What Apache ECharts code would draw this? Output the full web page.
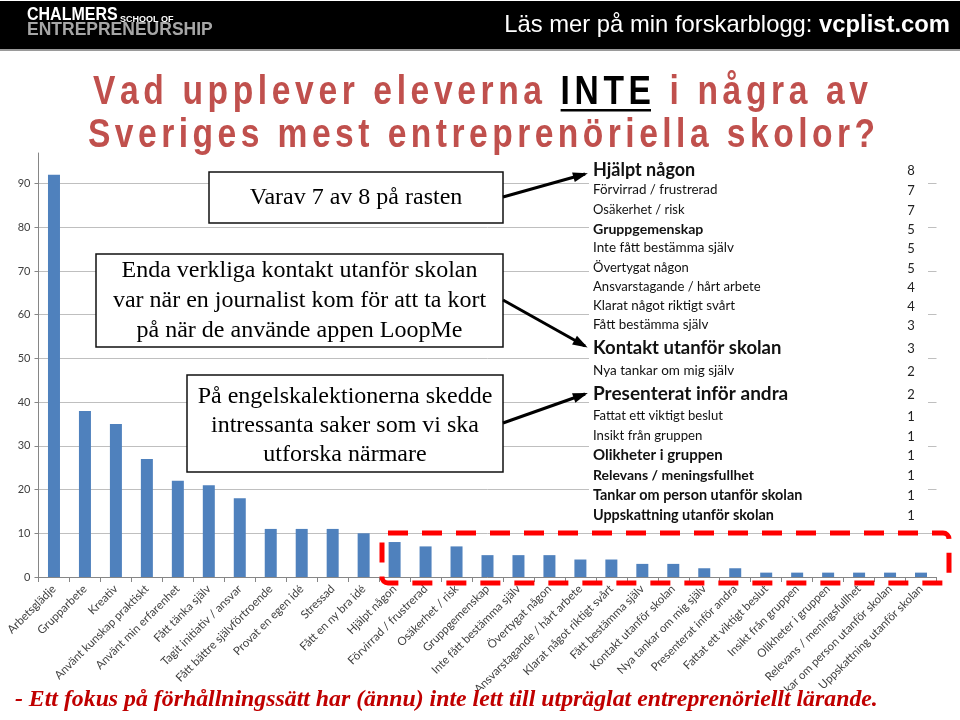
<!DOCTYPE html>
<html>
<head>
<meta charset="utf-8">
<script src="https://cdn.jsdelivr.net/npm/echarts@6/dist/echarts.min.js"></script>
<style>
html,body{margin:0;padding:0;background:#fff;}
#c{width:960px;height:720px;}
</style>
</head>
<body>
<div id="c"></div>
<script>
// ---------------- DATA ----------------
const categories = [
  'Arbetsglädje','Grupparbete','Kreativ','Använt kunskap praktiskt','Använt min erfarenhet',
  'Fått tänka själv','Tagit initiativ / ansvar','Fått bättre självförtroende','Provat en egen idé',
  'Stressad','Fått en ny bra idé','Hjälpt någon','Förvirrad / frustrerad','Osäkerhet / risk',
  'Gruppgemenskap','Inte fått bestämma själv','Övertygat någon','Ansvarstagande / hårt arbete',
  'Klarat något riktigt svårt','Fått bestämma själv','Kontakt utanför skolan','Nya tankar om mig själv',
  'Presenterat inför andra','Fattat ett viktigt beslut','Insikt från gruppen','Olikheter i gruppen',
  'Relevans / meningsfullhet','Tankar om person utanför skolan','Uppskattning utanför skolan'
];
const values = [92,38,35,27,22,21,18,11,11,11,10,8,7,7,5,5,5,4,4,3,3,2,2,1,1,1,1,1,1];
const tableStart = 11; // table lists categories from 'Hjälpt någon' onward

const titleLine1 = ['Vad upplever eleverna ', 'INTE', ' i några av'];
const titleLine2 = ['Sveriges mest entreprenöriella skolor?'];
const headerRight = ['Läs mer på min forskarblogg: ', 'vcplist.com'];
const noteBox1 = ['Varav 7 av 8 på rasten'];
const noteBox2 = ['Enda verkliga kontakt utanför skolan', 'var när en journalist kom för att ta kort', 'på när de använde appen LoopMe'];
const noteBox3 = ['På engelskalektionerna skedde', 'intressanta saker som vi ska', 'utforska närmare'];
const footer = '- Ett fokus på förhållningssätt har (ännu) inte lett till utpräglat entreprenöriellt lärande.';

// ---------------- STYLE / LAYOUT ----------------
const tableRowStyle = [ // [fontSize, bold]
  [18,true],[13.4,false],[13,false],[14.1,true],[13.5,false],[13,false],[13.1,false],[13.4,false],
  [13.4,false],[18.5,true],[13.5,false],[19,true],[13.1,false],[13.2,false],[15,true],[14,true],[14.4,true],[14.4,true]
];
const tableRowY = [170,190,210,229,248,268,287,306,325,348,371,394,416,436,455,475,495,515];

function measure(text, font){
  const c = measure.c || (measure.c = document.createElement('canvas').getContext('2d'));
  c.font = font; return c.measureText(text).width;
}

const gfx = [];
// header
gfx.push({type:'rect', shape:{x:0,y:1,width:960,height:49}, style:{fill:'#000'}, z:100});
gfx.push({type:'rect', shape:{x:0,y:49,width:960,height:2}, style:{fill:'#9a9a9a'}, z:100});
gfx.push({type:'text', x:27, y:24, scaleY:1.15, style:{text:'CHALMERS', fill:'#fff', font:'bold 16px "Liberation Sans"', textVerticalAlign:'bottom'}, z:101});
gfx.push({type:'text', x:120, y:24, style:{text:'SCHOOL OF', fill:'#fff', font:'bold 9px "Liberation Sans"', textVerticalAlign:'bottom'}, z:101});
gfx.push({type:'text', x:27, y:40, scaleY:1.1, style:{text:'ENTREPRENEURSHIP', fill:'#a6a6a6', font:'bold 17.5px "Liberation Sans"', textVerticalAlign:'bottom'}, z:101});
gfx.push({type:'text', x:950, y:25, style:{
  text:'{a|'+headerRight[0]+'}{b|'+headerRight[1]+'}', align:'right', verticalAlign:'middle',
  rich:{a:{fill:'#fff', font:'23.8px "Liberation Sans"'}, b:{fill:'#fff', font:'bold 23.8px "Liberation Sans"'}}
}, z:101});

// title (letter-spaced, drawn character by character)
const tSize = 40, tScaleX = 0.84;
const tFont = 'bold ' + tSize + 'px "Liberation Sans"';
const tRed = '#c0504d';
function spacedLine(segments, colors, midY, left, right, underlineIdx){
  const chars = [];
  segments.forEach((s,si)=>{ for (const ch of s) chars.push([ch, si]); });
  const widths = chars.map(c=>measure(c[0], tFont)*tScaleX);
  const natural = widths.reduce((a,b)=>a+b,0);
  const sp = (right-left-natural)/(chars.length-1);
  let x = left, ux0 = null, ux1 = null;
  chars.forEach((c,i)=>{
    if (c[0] !== ' ') gfx.push({type:'text', x:x, y:midY, scaleX:tScaleX, style:{text:c[0], fill:colors[c[1]], font:tFont, verticalAlign:'middle'}, z:101});
    if (c[1] === underlineIdx){ if (ux0===null) ux0 = x; ux1 = x + widths[i]; }
    x += widths[i] + sp;
  });
  if (ux0 !== null) gfx.push({type:'rect', shape:{x:ux0, y:midY+16, width:ux1-ux0, height:2.5}, style:{fill:'#000'}, z:101});
}
spacedLine(titleLine1, [tRed,'#000',tRed], 93, 93, 868, 1);
spacedLine(titleLine2, [tRed], 136, 88, 875, -1);

// note boxes
function box(x,y,wd,ht,lines,lineY){
  gfx.push({type:'rect', shape:{x:x,y:y,width:wd,height:ht}, style:{fill:'#fff', stroke:'#111', lineWidth:1.5}, z:100});
  lines.forEach((s,i)=>{
    gfx.push({type:'text', x:x+wd/2, y:lineY[i], style:{text:s, fill:'#000', font:'24px "Liberation Serif"', align:'center', verticalAlign:'middle'}, z:101});
  });
}
box(209,172,294,51,noteBox1,[198]);
box(96,254,407,93,noteBox2,[271,301,331]);
box(187,375,316,97,noteBox3,[397,426,455]);

// arrows
function arrow(x1,y1,x2,y2){
  gfx.push({type:'line', shape:{x1:x1,y1:y1,x2:x2,y2:y2}, style:{stroke:'#000', lineWidth:3}, z:102});
  const a = Math.atan2(y2-y1,x2-x1), L=12, W=5;
  const bx = x2 - L*Math.cos(a), by = y2 - L*Math.sin(a);
  gfx.push({type:'polygon', shape:{points:[[x2+3*Math.cos(a),y2+3*Math.sin(a)],[bx - W*Math.sin(a), by + W*Math.cos(a)],[bx + W*Math.sin(a), by - W*Math.cos(a)]]}, style:{fill:'#000'}, z:102});
}
arrow(503,197,585,174);
arrow(503,300,585,346);
arrow(503,423,585,394);

// table (white panel covering gridlines)
gfx.push({type:'rect', shape:{x:589,y:158,width:339,height:368}, style:{fill:'#fff'}, z:100});
categories.slice(tableStart).forEach((name,i)=>{
  const st = tableRowStyle[i];
  gfx.push({type:'text', x:593, y:tableRowY[i], style:{text:name, fill:'#111', font:(st[1]?'bold ':'')+st[0]+'px Lato', verticalAlign:'middle'}, z:101});
  gfx.push({type:'text', x:911, y:tableRowY[i]+1, style:{text:String(values[tableStart+i]), fill:'#222', font:'13px Lato', align:'center', verticalAlign:'middle'}, z:101});
});

// red dashed frame
gfx.push({type:'rect', shape:{x:382,y:533,width:567,height:50,r:6}, style:{fill:null, stroke:'#ff0000', lineWidth:5, lineDash:[20,14]}, z:103});

// footer
gfx.push({type:'rect', shape:{x:10,y:691,width:880,height:29}, style:{fill:'#fff'}, z:100});
gfx.push({type:'text', x:15, y:700, style:{text:footer, fill:'#c00000', font:'italic bold 23.8px "Liberation Serif"', verticalAlign:'middle'}, z:101});

const chart = echarts.init(document.getElementById('c'), null, {renderer:'canvas'});
chart.setOption({
  animation:false,
  backgroundColor:'#fff',
  grid:{left:38.5, right:23.5, top:153, bottom:143, containLabel:false},
  xAxis:{
    type:'category', data:categories,
    axisLine:{lineStyle:{color:'#868686', width:1}},
    axisTick:{show:true, length:5, lineStyle:{color:'#868686'}},
    axisLabel:{rotate:45, interval:0, fontSize:11.5, color:'#404040', fontFamily:'Lato', margin:10}
  },
  yAxis:{
    type:'value', min:0, max:97, interval:10,
    axisLine:{show:true, lineStyle:{color:'#868686'}},
    axisTick:{show:true, length:4, lineStyle:{color:'#868686'}},
    axisLabel:{fontSize:11, color:'#404040', fontFamily:'Lato', margin:8, showMaxLabel:false},
    splitLine:{show:true, showMaxLine:false, lineStyle:{color:'#bfbfbf'}}
  },
  series:[{type:'bar', data:values, barWidth:12, itemStyle:{color:'#4f81bd'}}],
  graphic:{elements:gfx}
});
</script>
</body>
</html>
